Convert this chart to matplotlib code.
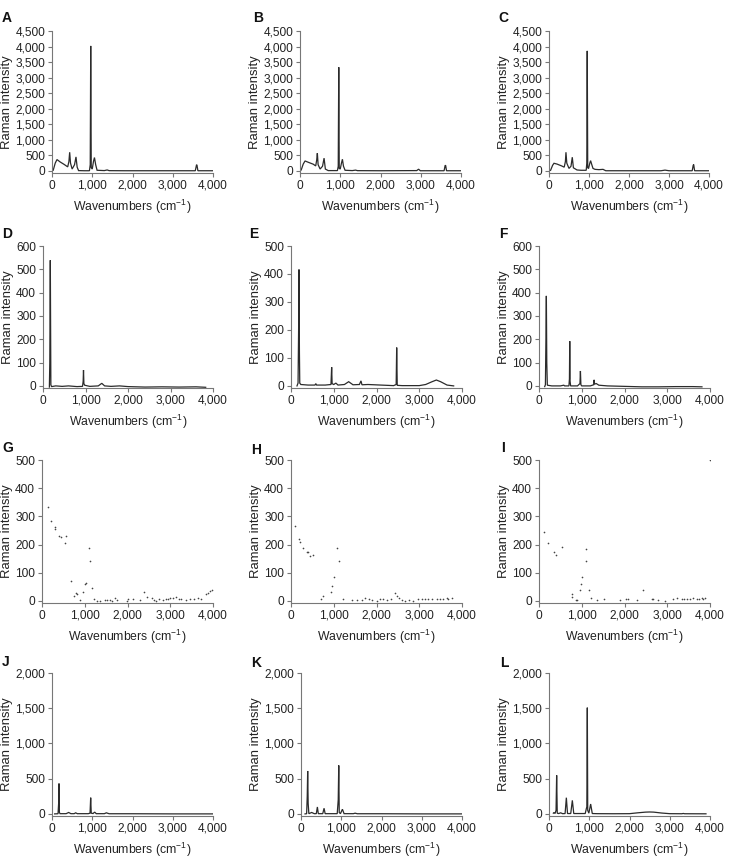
import matplotlib
matplotlib.use("Agg")
import matplotlib.pyplot as plt
from matplotlib.ticker import FuncFormatter

plt.rcParams['font.family'] = ['Liberation Sans', 'DejaVu Sans']
plt.rcParams['mathtext.fontset'] = 'custom'
plt.rcParams['mathtext.rm'] = 'Liberation Sans'
plt.rcParams['mathtext.it'] = 'Liberation Sans'
plt.rcParams['mathtext.default'] = 'regular'

# ---------------- data (wavenumber vertices / intensities) -------------
A_x = [0, 30, 80, 124, 200, 300, 390, 420, 439, 460, 500, 560, 596, 625, 660, 800, 930, 950, 962, 975, 1000, 1030, 1055, 1085, 1120, 1300, 1370, 1420, 1800, 2500, 3200, 3560, 3590, 3600, 3625, 3700, 4000]
A_y = [0, 20, 250, 365, 290, 210, 130, 300, 600, 250, 60, 200, 450, 120, 10, 5, 5, 200, 4020, 100, 60, 300, 430, 200, 20, 10, 30, 8, 5, 5, 5, 5, 190, 195, 5, 5, 5]

B_x = [0, 30, 80, 125, 200, 330, 390, 415, 431, 450, 500, 560, 598, 630, 700, 930, 950, 963, 975, 1000, 1030, 1054, 1080, 1120, 1300, 1380, 1430, 2000, 2900, 2946, 2990, 3580, 3605, 3618, 3640, 4000]
B_y = [0, 30, 220, 320, 280, 215, 160, 350, 570, 200, 60, 150, 410, 60, 10, 10, 150, 3335, 80, 60, 250, 375, 150, 20, 10, 25, 8, 5, 10, 55, 5, 5, 170, 180, 5, 5]

C_x = [0, 40, 90, 125, 200, 316, 380, 410, 424, 445, 500, 550, 582, 610, 700, 800, 930, 945, 956, 968, 990, 1020, 1040, 1070, 1100, 1150, 1250, 1350, 1420, 2000, 2800, 2900, 3000, 3580, 3605, 3617, 3640, 4000]
C_y = [0, 20, 180, 245, 220, 160, 120, 300, 600, 250, 80, 150, 440, 100, 30, 20, 20, 250, 3860, 100, 80, 250, 330, 200, 80, 50, 40, 50, 5, 5, 5, 25, 5, 5, 180, 205, 5, 5]

D_x = [150, 160, 172, 185, 200, 300, 450, 600, 800, 930, 945, 953, 962, 980, 1050, 1100, 1300, 1383, 1450, 1600, 1800, 2000, 2400, 2800, 3200, 3600, 3828]
D_y = [-5, 100, 539, 5, -3, 0, -2, 0, -3, -2, 20, 68, 10, 3, 0, -2, 0, 11, 0, -2, 0, -3, -5, -4, -5, -4, -6]

E_x = [140, 165, 178, 187, 197, 205, 230, 400, 560, 580, 600, 800, 935, 951, 962, 1000, 1050, 1100, 1250, 1349, 1450, 1600, 1637, 1660, 1800, 2100, 2400, 2460, 2472, 2485, 2600, 2800, 3000, 3150, 3300, 3400, 3500, 3650, 3805]
E_y = [0, 10, 200, 416, 120, 10, 5, 3, 3, 8, 3, 3, 5, 67, 8, 5, 10, 3, 5, 15, 4, 5, 18, 4, 5, 3, 1, 5, 137, 2, 1, 1, 1, 5, 15, 21, 15, 3, 0]

F_x = [133, 150, 162, 172, 182, 195, 300, 500, 580, 600, 700, 712, 719, 727, 740, 900, 958, 969, 980, 1000, 1200, 1280, 1289, 1300, 1340, 1400, 1600, 2000, 2400, 2800, 3200, 3600, 3812]
F_y = [-3, 5, 200, 386, 100, 3, 0, 0, 3, 0, 0, 30, 192, 20, 0, 0, 10, 64, 5, 0, 0, 5, 26, 8, 10, 3, 0, -2, -4, -4, -3, -3, -4]

G_x = [140, 210, 295, 310, 404, 435, 544, 552, 676, 738, 792, 815, 893, 955, 1010, 1025, 1095, 1126, 1173, 1227, 1281, 1360, 1475, 1515, 1592, 1630, 1709, 1748, 1981, 2004, 2136, 2291, 2392, 2447, 2563, 2617, 2664, 2742, 2835, 2897, 2951, 2990, 3068, 3146, 3208, 3262, 3379, 3456, 3550, 3650, 3713, 3829, 3883, 3938, 3984]
G_y = [333, 283, 262, 255, 229, 225, 207, 232, 69, 19, 27, 26, 2, 33, 60, 62, 189, 143, 45, 8, 0, 0, 4, 2, 2, 0, 12, 2, 0, 6, 6, 2, 30, 15, 10, 2, -2, 6, 2, 8, 6, 12, 10, 14, 8, 6, 2, 6, 6, 12, 7, 24, 27, 36, 39]

H_x = [101, 195, 218, 280, 374, 405, 451, 514, 708, 739, 934, 965, 1004, 1074, 1113, 1206, 1424, 1541, 1658, 1720, 1813, 1891, 2008, 2086, 2163, 2241, 2335, 2444, 2475, 2521, 2591, 2669, 2770, 2864, 2981, 3058, 3136, 3214, 3292, 3409, 3486, 3564, 3642, 3681, 3774]
H_y = [264, 219, 208, 188, 174, 175, 161, 162, 6, 18, 32, 54, 83, 187, 140, 5, 2, 2, 4, 12, 6, 2, 0, 6, 6, 4, 6, 29, 18, 10, 4, 0, 2, 0, 5, 6, 6, 8, 6, 7, 5, 8, 12, 6, 10]

I_x = [109, 211, 344, 398, 547, 766, 781, 859, 883, 961, 977, 1016, 1094, 1109, 1172, 1211, 1359, 1516, 1891, 2031, 2086, 2281, 2430, 2633, 2672, 2789, 2945, 3141, 3219, 3336, 3391, 3453, 3531, 3609, 3688, 3750, 3805, 3844, 3883, 3990]
I_y = [245, 205, 175, 164, 190, 24, 15, 2, 2, 38, 60, 86, 185, 143, 40, 12, 2, 8, 2, 7, 8, 2, 40, 6, 6, 2, 0, 6, 12, 6, 8, 5, 6, 10, 6, 6, 12, 8, 12, 500]

J_x = [66, 150, 165, 174, 184, 200, 350, 414, 470, 550, 588, 630, 900, 945, 961, 975, 1020, 1060, 1100, 1300, 1350, 1420, 2000, 3000, 4000]
J_y = [0, 2, 150, 431, 20, 3, 3, 20, 3, 3, 15, 3, 3, 10, 230, 10, 5, 25, 3, 3, 15, 2, 2, 0, 0]

K_x = [100, 140, 155, 166, 178, 195, 265, 330, 380, 407, 430, 540, 573, 600, 900, 925, 938, 950, 980, 1029, 1070, 1300, 1344, 1400, 2000, 3000, 4000]
K_y = [0, 2, 250, 609, 150, 3, 20, 3, 3, 98, 3, 3, 80, 3, 3, 200, 688, 20, 3, 66, 3, 3, 10, 2, 2, 0, 0]

L_x = [108, 124, 150, 175, 190, 205, 240, 290, 340, 400, 431, 460, 540, 580, 615, 900, 930, 940, 952, 962, 990, 1035, 1075, 1200, 1600, 2000, 2200, 2400, 2500, 2600, 2800, 3000, 3300, 3337, 3370, 3900]
L_y = [10, 20, 5, 50, 548, 10, 5, 15, 3, 5, 230, 5, 5, 192, 5, 5, 80, 100, 1508, 50, 10, 140, 5, 3, 2, 3, 15, 25, 27, 25, 12, 3, 2, 6, 2, 1]

panel_labels = ['A', 'B', 'C', 'D', 'E', 'F', 'G', 'H', 'I', 'J', 'K', 'L']
panel_x = [A_x, B_x, C_x, D_x, E_x, F_x, G_x, H_x, I_x, J_x, K_x, L_x]
panel_y = [A_y, B_y, C_y, D_y, E_y, F_y, G_y, H_y, I_y, J_y, K_y, L_y]
panel_kind = ['line'] * 6 + ['dots'] * 3 + ['line'] * 3
panel_ymax = [4500, 4500, 4500, 600, 500, 600, 500, 500, 500, 2000, 2000, 2000]
panel_ystep = [500, 500, 500, 100, 100, 100, 100, 100, 100, 500, 500, 500]
x_ticks = [0, 1000, 2000, 3000, 4000]

# ---------------- layout (pixels) ----------------
W, H = 729, 861
rows_tb = [(31, 173), (246, 388), (460, 603), (673, 816)]
cols_lr = [[(52, 213), (300, 461), (549, 709)],
           [(43, 213), (291, 462), (539, 710)],
           [(42, 213), (291, 462), (539, 710)],
           [(52, 213), (301, 462), (549, 710)]]
letter_pos = [(2, 18), (253, 18), (498, 18),
              (2, 234), (249, 234), (499, 234),
              (2, 448), (251, 450), (501, 448),
              (2, 662), (251, 663), (500, 663)]

fig = plt.figure(figsize=(W / 100, H / 100), dpi=100)
fig.patch.set_facecolor('white')

fmt = FuncFormatter(lambda v, p: f"{int(round(v)):,}")
line_col = '#2b2b2b'
spine_col = '#777777'
text_col = '#222222'

for i in range(12):
    r, c = divmod(i, 3)
    t, b = rows_tb[r]
    l, rr = cols_lr[r][c]
    ax = fig.add_axes([l / W, 1 - b / H, (rr - l) / W, (b - t) / H])
    if panel_kind[i] == 'line':
        ax.plot(panel_x[i], panel_y[i], color=line_col, lw=0.9, solid_joinstyle='miter')
    else:
        ax.plot(panel_x[i], panel_y[i], ls='none', marker='o', ms=1.2,
                mec='none', mfc='#444444')
    ymax = panel_ymax[i]
    ax.set_xlim(0, 4000)
    ax.set_ylim(-0.015 * ymax, ymax)
    ax.set_xticks(x_ticks)
    step = panel_ystep[i]
    ax.set_yticks(list(range(0, ymax + 1, step)))
    ax.xaxis.set_major_formatter(fmt)
    ax.yaxis.set_major_formatter(fmt)
    for s in ['top', 'right']:
        ax.spines[s].set_visible(False)
    for s in ['left', 'bottom']:
        ax.spines[s].set_color(spine_col)
        ax.spines[s].set_linewidth(0.8)
    ax.tick_params(axis='both', direction='out', length=3, width=0.8,
                   color=spine_col, labelsize=8.6, labelcolor=text_col, pad=2)
    ax.set_xlabel('Wavenumbers (cm$^{-1}$)', fontsize=8.8, color=text_col, labelpad=4)
    ax.set_ylabel('Raman intensity', fontsize=9.4, color=text_col, labelpad=1.5)
    ax.patch.set_alpha(0)
    lx, ly = letter_pos[i]
    fig.text(lx / W, 1 - ly / H, panel_labels[i], fontsize=10, fontweight='bold',
             ha='left', va='center', color='#111111')

fig.savefig('out.png', dpi=100, facecolor='white')
